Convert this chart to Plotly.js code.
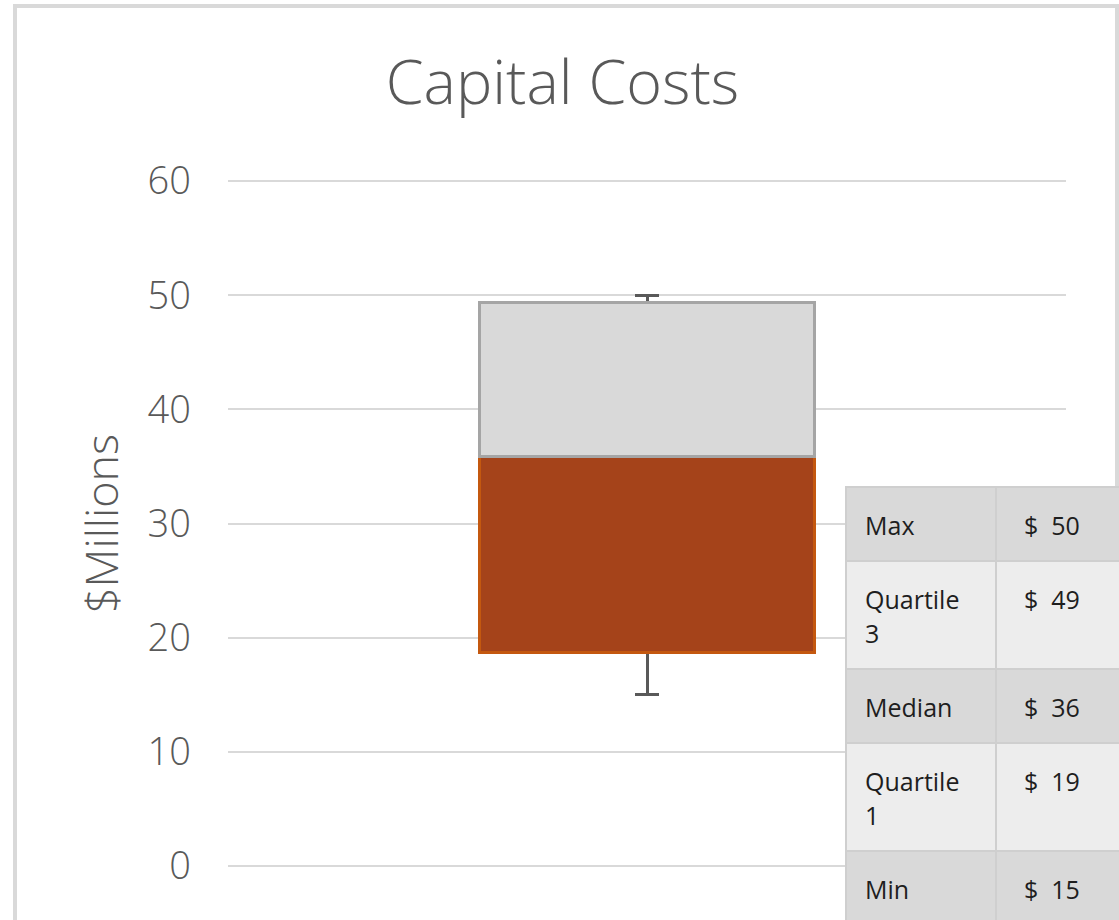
<!DOCTYPE html>
<html>
<head>
<meta charset="utf-8">
<script src="https://cdn.plot.ly/plotly-3.0.1.min.js"></script>
<style>
  html, body { margin: 0; padding: 0; background: #fff; overflow: hidden; }
  #wrap { position: relative; width: 1119px; height: 920px; overflow: hidden; }
  #chart { position: absolute; left: 0; top: 0; width: 1119px; height: 920px; }
  #frame { position: absolute; left: 13px; top: 4px; width: 1098px; height: 1000px;
           border: 4px solid #d9d9d9; pointer-events: none; }
  #stats { position: absolute; left: 845px; top: 486px; border-collapse: collapse;
           font-family: "Open Sans", "Noto Sans", sans-serif; font-size: 25px; line-height: 34px;
           color: #1e1e1e; table-layout: fixed; width: 300px; }
  #stats td { border: 2px solid #cfcfcf; vertical-align: top; padding: 20px 0 18px 0; }
  #stats td.lab { width: 130px; padding-left: 18px; }
  #stats td.lab div { width: 100px; }
  #stats td.val { padding-left: 27px; }
  #stats tr.dark td { background: #d9d9d9; }
  #stats tr.light td { background: #ededed; }
</style>
</head>
<body>
<div id="wrap">
  <div id="chart"></div>
  <div id="frame"></div>
  <table id="stats"></table>
</div>
<script>
// ---- data ----
var categories = ['Capital Costs'];
var statLabels = ['Max', 'Quartile 3', 'Median', 'Quartile 1', 'Min'];
var statValues = [50, 49.4, 35.9, 18.7, 15];   // $ millions
var yTicks = [0, 10, 20, 30, 40, 50, 60];

var maxV = statValues[0], q3 = statValues[1], med = statValues[2], q1 = statValues[3], minV = statValues[4];

var textColor = '#595959';
var chartFont = '"Open Sans", "Noto Sans", sans-serif';

var traces = [
  { // invisible base (0 -> Q1), carries lower whisker
    type: 'bar', x: categories, y: [q1],
    marker: { color: 'rgba(0,0,0,0)', line: { width: 0 } },
    error_y: { type: 'data', symmetric: false, array: [0], arrayminus: [q1 - minV],
               color: '#595959', thickness: 3, width: 12 },
    hoverinfo: 'skip'
  },
  { // Q1 -> Median, carries upper whisker (hidden behind grey box up to Q3)
    type: 'bar', x: categories, y: [med - q1],
    marker: { color: '#a5431a', line: { color: '#c4580f', width: 3 } },
    error_y: { type: 'data', symmetric: false, array: [maxV - med], arrayminus: [0],
               color: '#595959', thickness: 3, width: 12 },
    hoverinfo: 'skip'
  },
  { // Median -> Q3
    type: 'bar', x: categories, y: [q3 - med],
    marker: { color: '#d9d9d9', line: { color: '#a5a5a5', width: 3 } },
    hoverinfo: 'skip'
  }
];

var layout = {
  width: 1119, height: 920,
  paper_bgcolor: '#ffffff', plot_bgcolor: '#ffffff',
  margin: { l: 228, r: 53, t: 180, b: 53 },
  barmode: 'stack', bargap: 0.6,
  showlegend: false,
  font: { family: chartFont, color: textColor },
  title: {
    text: 'Capital Costs',
    font: { family: chartFont, size: 61, color: textColor, weight: 300 },
    x: 0.5027, xanchor: 'center', xref: 'container',
    y: 0.9098, yanchor: 'middle', yref: 'container'
  },
  xaxis: {
    type: 'category', showticklabels: false, showgrid: false, zeroline: false,
    showline: false, ticks: ''
  },
  yaxis: {
    range: [-0.1, 60.1], tickmode: 'array', tickvals: yTicks,
    showgrid: true, gridcolor: '#d9d9d9', gridwidth: 2,
    zeroline: false,
    showline: false, ticks: '', ticklabelstandoff: 36,
    tickfont: { family: chartFont, size: 38, color: textColor, weight: 300 },
    title: { text: '$Millions', standoff: 14,
             font: { family: chartFont, size: 45, color: textColor, weight: 300 } },
    automargin: false
  }
};

Plotly.newPlot('chart', traces, layout, { staticPlot: true, displayModeBar: false });

// ---- stats table ----
var tbl = document.getElementById('stats');
var html = '';
for (var i = 0; i < statLabels.length; i++) {
  var cls = (i % 2 === 0) ? 'dark' : 'light';
  html += '<tr class="' + cls + '"><td class="lab"><div>' + statLabels[i] +
          '</div></td><td class="val">$\u00a0\u00a0' + Math.round(statValues[i]) + '</td></tr>';
}
tbl.innerHTML = html;
</script>
</body>
</html>
